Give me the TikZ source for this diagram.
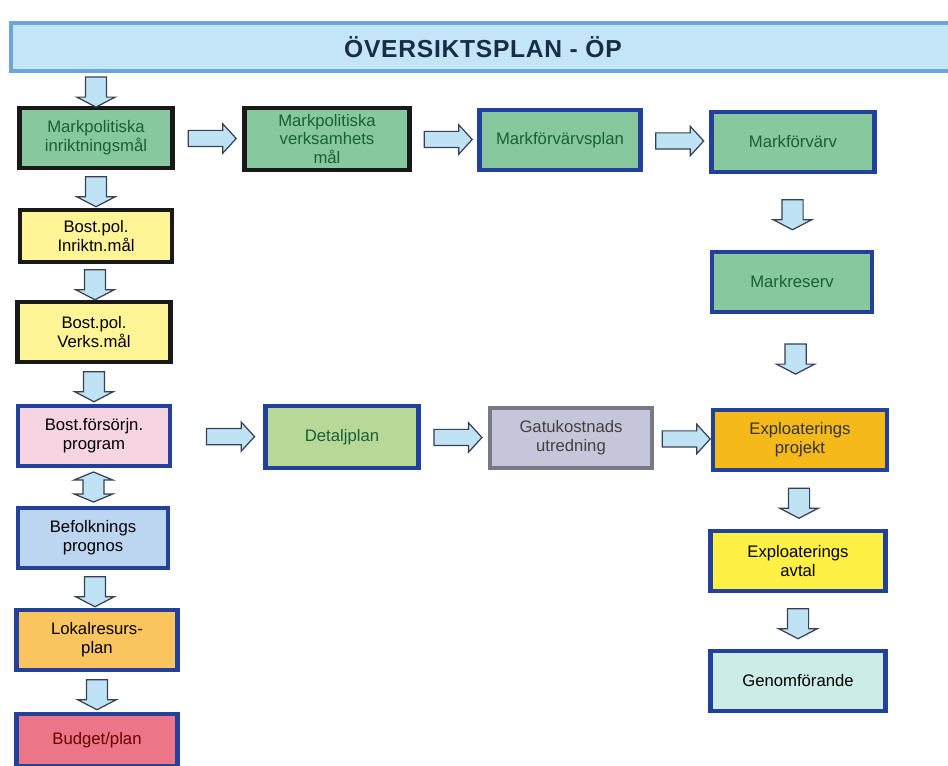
\documentclass[tikz,border=0pt]{standalone}
\usepackage{fontspec}
\setmainfont{Liberation Sans}
\usetikzlibrary{shapes.arrows,calc}
\definecolor{titleBlue}{RGB}{196,228,247}
\definecolor{titleLine}{RGB}{110,165,215}
\definecolor{titleText}{RGB}{22,45,70}
\definecolor{boxBlack}{RGB}{25,25,25}
\definecolor{boxBlue}{RGB}{35,65,155}
\definecolor{boxGrey}{RGB}{120,120,135}
\definecolor{markGreen}{RGB}{135,200,158}
\definecolor{markText}{RGB}{25,95,55}
\definecolor{bostYellow}{RGB}{255,244,150}
\definecolor{bostPink}{RGB}{246,212,226}
\definecolor{befBlue}{RGB}{188,214,242}
\definecolor{lokOrange}{RGB}{250,196,95}
\definecolor{budgetRed}{RGB}{236,118,135}
\definecolor{detGreen}{RGB}{184,216,152}
\definecolor{gatuGrey}{RGB}{198,198,218}
\definecolor{explOrange}{RGB}{245,186,25}
\definecolor{explYellow}{RGB}{255,240,70}
\definecolor{genCyan}{RGB}{204,236,232}
\definecolor{arrowFill}{RGB}{192,226,245}
\definecolor{arrowLine}{RGB}{55,65,80}

\tikzset{
  stepbox/.style={draw, line width=2.6pt, align=center, inner sep=1pt,
    font=\fontsize{9.5}{11}\selectfont, minimum height=1.2cm},
  darkbox/.style={stepbox, draw=boxBlack},
  bluebox/.style={stepbox, draw=boxBlue},
  harrow/.style={single arrow, draw=arrowLine, fill=arrowFill, line width=0.7pt,
    inner sep=0.15cm, minimum height=0.96cm, minimum width=0.56cm,
    single arrow head extend=0.13cm, single arrow tip angle=95},
  varrow/.style={single arrow, draw=arrowLine, fill=arrowFill, line width=0.7pt,
    inner sep=0.2cm, minimum height=0.6cm, minimum width=0.74cm,
    single arrow head extend=0.17cm, single arrow tip angle=125,
    shape border rotate=270},
  dvarrow/.style={double arrow, draw=arrowLine, fill=arrowFill, line width=0.7pt,
    inner sep=0.2cm, minimum height=0.56cm, minimum width=0.74cm,
    double arrow head extend=0.17cm, double arrow tip angle=135,
    shape border rotate=90}
}

\begin{document}
\begin{tikzpicture}[x=0.02cm, y=-0.02cm]
  \useasboundingbox (0,0) rectangle (948,766);
  \fill[white] (0,0) rectangle (948,766);

  % Title band
  \node[draw=titleLine, fill=titleBlue, line width=2.2pt, minimum width=18.9cm,
        minimum height=0.96cm, text=titleText,
        font=\fontsize{14}{16}\selectfont\bfseries\addfontfeature{LetterSpace=3}] (op) at (483,47)
        {ÖVERSIKTSPLAN - ÖP};

  % Mark row
  \node[darkbox, fill=markGreen, text=markText, minimum width=3.06cm] (mi) at (96,138)
        {Markpolitiska\\inriktningsmål};
  \node[darkbox, fill=markGreen, text=markText, minimum width=3.3cm, minimum height=1.24cm,
        font=\fontsize{9.5}{10.6}\selectfont] (mv) at (327,139)
        {Markpolitiska\\verksamhets\\mål};
  \node[bluebox, fill=markGreen, text=markText, minimum width=3.22cm] (mfp) at (560,140)
        {Markförvärvsplan};
  \node[bluebox, fill=markGreen, text=markText, minimum width=3.26cm] (mf) at (793,142)
        {Markförvärv};
  \node[bluebox, fill=markGreen, text=markText, minimum width=3.2cm] (mr) at (792,282)
        {Markreserv};

  % Left column
  \node[darkbox, fill=bostYellow, minimum width=3.04cm, minimum height=1.04cm] (bi) at (96,236)
        {Bost.pol.\\Inriktn.mål};
  \node[darkbox, fill=bostYellow, minimum width=3.06cm] (bv) at (94,332)
        {Bost.pol.\\Verks.mål};
  \node[bluebox, fill=bostPink, minimum width=3.04cm] (bf) at (94,436)
        {Bost.försörjn.\\program};
  \node[bluebox, fill=befBlue, minimum width=3.0cm] (bp) at (93,538)
        {Befolknings\\prognos};
  \node[bluebox, fill=lokOrange, minimum width=3.22cm] (lp) at (97,640)
        {Lokalresurs-\\plan};
  \node[bluebox, fill=budgetRed, text=red!40!black, minimum width=3.22cm, minimum height=1.04cm] (bu) at (97,740)
        {Budget/plan};

  % Planning row
  \node[bluebox, fill=detGreen, text=markText, minimum width=3.06cm, minimum height=1.24cm] (dp) at (342,437)
        {Detaljplan};
  \node[stepbox, draw=boxGrey, fill=gatuGrey, text=black!75, minimum width=3.24cm] (gu) at (571,438)
        {Gatukostnads\\utredning};
  \node[bluebox, fill=explOrange, text=black!80, minimum width=3.48cm] (ep) at (800,440)
        {Exploaterings\\projekt};
  \node[bluebox, fill=explYellow, minimum width=3.5cm] (ea) at (798,561)
        {Exploaterings\\avtal};
  \node[bluebox, fill=genCyan, minimum width=3.5cm] (ge) at (798,681)
        {Genomförande};

  % Block arrows
  \node[varrow] (a0) at ($(mi.north)!0.5!(mi.north |- op.south)$) {};
  \node[harrow] (a1) at ($(mi.east)!0.5!(mv.west)$) {};
  \node[harrow] (a2) at ($(mv.east)!0.5!(mfp.west)$) {};
  \node[harrow] (a3) at ($(mfp.east)!0.5!(mf.west)$) {};
  \node[varrow] (a4) at ($(mf.south)!0.5!(mr.north)$) {};
  \node[varrow] (a5) at ($(mr.south)!0.45!(ep.north)$) {};
  \node[varrow] (a6) at ($(mi.south)!0.5!(bi.north)$) {};
  \node[varrow] (a7) at ($(bi.south)!0.5!(bv.north)$) {};
  \node[varrow] (a8) at ($(bv.south)!0.5!(bf.north)$) {};
  \node[dvarrow] (a9) at ($(bf.south)!0.5!(bp.north)$) {};
  \node[varrow] (a10) at ($(bp.south)!0.5!(lp.north)$) {};
  \node[varrow] (a11) at ($(lp.south)!0.5!(bu.north)$) {};
  \node[harrow] (a12) at ($(bf.east)!0.6!(dp.west)$) {};
  \node[harrow] (a13) at ($(dp.east)!0.5!(gu.west)$) {};
  \node[harrow] (a14) at ($(gu.east)!0.5!(ep.west)$) {};
  \node[varrow] (a15) at ($(ep.south)!0.5!(ea.north)$) {};
  \node[varrow] (a16) at ($(ea.south)!0.5!(ge.north)$) {};
\end{tikzpicture}
\end{document}
